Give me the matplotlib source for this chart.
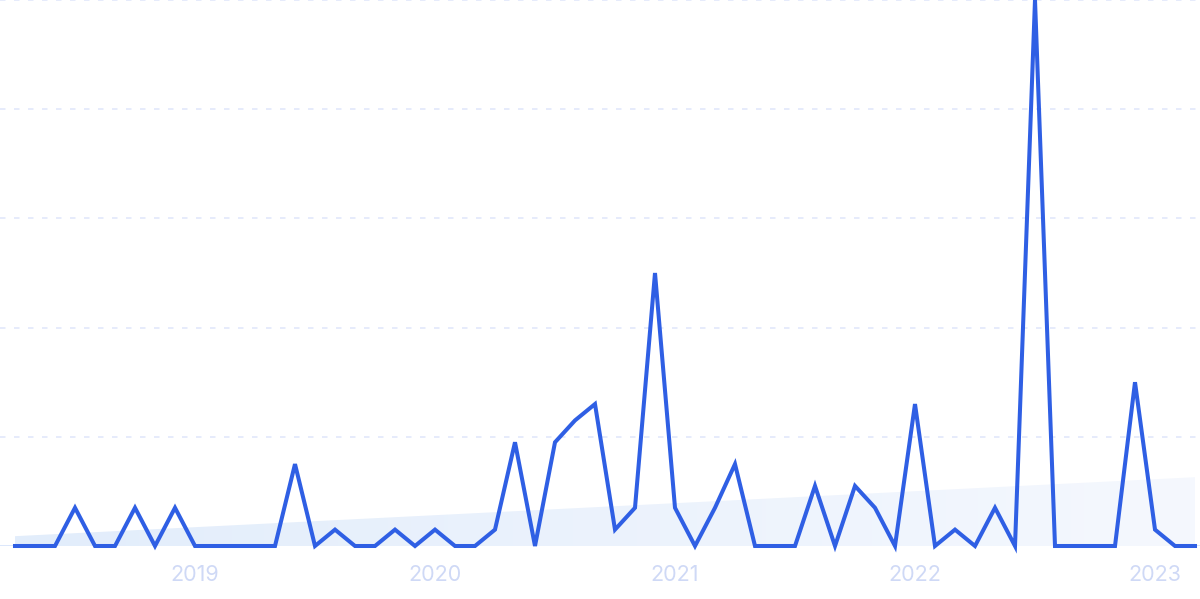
import matplotlib
matplotlib.use("Agg")
import matplotlib.pyplot as plt
import numpy as np
from matplotlib.colors import LinearSegmentedColormap

# Monthly data, 2018-04 .. 2023-03
months = [f"{y}-{m:02d}" for y in range(2018, 2024) for m in range(1, 13)]
months = months[3:63]
values = [0, 0, 0, 7, 0, 0, 7, 0, 7,
          0, 0, 0, 0, 0, 15, 0, 3, 0, 0, 3, 0,
          3, 0, 0, 3, 19, 0, 19, 23, 26, 3, 7, 50,
          7, 0, 7, 15, 0, 0, 0, 11, 0, 11, 7, 0,
          26, 0, 3, 0, 7, 0, 100, 0, 0, 0, 0, 30,
          3, 0, 0]
trend_start = 1.8
trend_end = 12.6
year_labels = ["2019", "2020", "2021", "2022", "2023"]

x = np.arange(len(months))
tick_pos = [i for i, m in enumerate(months) if m.endswith("-01")]

fig = plt.figure(figsize=(12, 5.99), dpi=100)
ax = fig.add_axes([0, 53 / 599, 1, 546 / 599])
ax.set_xlim(-0.75, len(months) - 1 + 0.25)
ax.set_ylim(0, 100)

# gridlines
for gy in [20, 40, 60, 80, 100]:
    ax.axhline(gy, color="#e1e8fb", lw=1.2, linestyle=(0, (3.3, 5.1)), zorder=0, clip_on=False)
ax.axhline(0, color="#dce7fb", lw=1.4, zorder=1)

# trend area with horizontal gradient
trend = np.linspace(trend_start, trend_end, len(x))
poly = ax.fill_between(x, 0, trend, color="none", lw=0)
cmap = LinearSegmentedColormap.from_list("g", ["#e2edfb", "#f5f8fe"])
grad = np.linspace(0, 1, 256).reshape(1, -1)
im = ax.imshow(grad, cmap=cmap, aspect="auto", extent=[x[0], x[-1], 0, trend_end],
               zorder=1, origin="lower")
im.set_clip_path(poly.get_paths()[0], transform=ax.transData)

ax.plot(x, values, color="#2f5fe4", lw=2.9, solid_joinstyle="miter", zorder=3, clip_on=False)

ax.set_xticks(tick_pos)
ax.set_xticklabels(year_labels)
ax.tick_params(axis="x", length=0, pad=14, labelsize=15.5, labelcolor="#cfd9f6")
for t in ax.get_xticklabels():
    t.set_family(["Inter", "DejaVu Sans"])
ax.set_yticks([])
for s in ax.spines.values():
    s.set_visible(False)

fig.savefig("out.png", dpi=100)
